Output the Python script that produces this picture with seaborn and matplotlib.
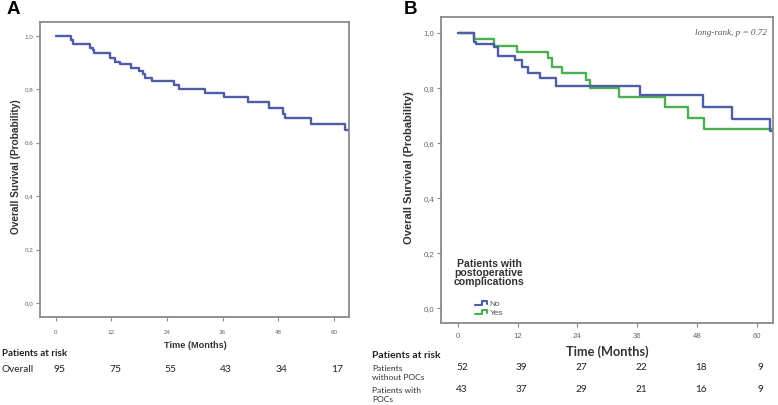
import matplotlib
matplotlib.use("Agg")
import matplotlib.pyplot as plt
import matplotlib.transforms as mtransforms
from matplotlib.lines import Line2D
from matplotlib.legend_handler import HandlerBase
import seaborn as sns
import pandas as pd

# ---------------- data ----------------
time_ticks = [0, 12, 24, 36, 48, 60]
ytick_vals = [0.0, 0.2, 0.4, 0.6, 0.8, 1.0]
ytick_labels = ["0,0", "0,2", "0,4", "0,6", "0,8", "1,0"]

times_overall = [0, 3.2, 3.7, 7.4, 8.0, 8.3, 11.7, 12.8, 13.9, 16.2, 18.0, 18.8,
                 19.3, 20.7, 25.5, 26.7, 32.2, 36.3, 41.5, 46.0, 49.1, 49.4, 55.0,
                 62.4, 63.3]
surv_overall = [1.0, 0.985, 0.970, 0.954, 0.946, 0.937, 0.916, 0.904, 0.893, 0.880,
                0.870, 0.859, 0.843, 0.831, 0.818, 0.802, 0.788, 0.770, 0.751, 0.731,
                0.707, 0.694, 0.669, 0.646, 0.646]

times_no = [0, 3.3, 3.7, 7.3, 8.0, 11.5, 12.8, 14.0, 16.4, 19.7, 36.5, 49.2, 55.0,
            62.7, 63.3]
surv_no = [1.0, 0.968, 0.959, 0.949, 0.917, 0.902, 0.877, 0.853, 0.835, 0.808,
           0.776, 0.733, 0.688, 0.645, 0.645]

times_yes = [0, 3.3, 7.3, 11.8, 18.1, 18.9, 20.9, 25.8, 26.6, 32.3, 41.7, 46.2,
             49.5, 63.3]
surv_yes = [1.0, 0.978, 0.954, 0.930, 0.908, 0.877, 0.853, 0.829, 0.801, 0.766,
            0.731, 0.691, 0.651, 0.651]

risk_overall = [95, 75, 55, 43, 34, 17]
risk_no = [52, 39, 27, 22, 18, 9]
risk_yes = [43, 37, 29, 21, 16, 9]

group_labels = ["No", "Yes"]

# ---------------- style ----------------
sns.set_style("white")
plt.rcParams["font.family"] = ["Liberation Sans", "DejaVu Sans"]

BLUE = "#4f5ca8"
GREEN = "#4caf50"
SPINE = "#8a8a8a"
TICKTXT = "#666666"
LATO = ["Lato", "DejaVu Sans"]

W, H = 778, 405
fig = plt.figure(figsize=(W / 100, H / 100), dpi=100)


def fx(x):
    return x / W


def fy(y):
    return 1 - y / H


def make_ax(l, t, r, b):
    return fig.add_axes([fx(l), fy(b), (r - l) / W, (b - t) / H])


def style_ax(ax, tick_fs, ylim):
    ax.set_xlim(-3.4, 63.3)
    ax.set_ylim(*ylim)
    ax.set_xticks(time_ticks)
    ax.set_xticklabels([str(t) for t in time_ticks])
    ax.set_yticks(ytick_vals)
    ax.set_yticklabels(ytick_labels)
    for s in ax.spines.values():
        s.set_color(SPINE)
        s.set_linewidth(1.3)
    ax.tick_params(axis="both", direction="out", length=3, width=0.8,
                   color=SPINE, labelsize=tick_fs, labelcolor=TICKTXT, pad=2)
    ax.tick_params(axis="both", which="both", left=True, bottom=True)
    ax.set_xlabel("")
    ax.set_ylabel("")


# ---------------- Panel A ----------------
axA = make_ax(40, 22, 349, 317)
dfA = pd.DataFrame({"t": times_overall, "s": surv_overall})
sns.lineplot(data=dfA, x="t", y="s", ax=axA, drawstyle="steps-post",
             color=BLUE, linewidth=1.7, estimator=None)
style_ax(axA, 4.5, (-0.052, 1.052))
axA.tick_params(axis="x", pad=6)

fig.text(fx(7), fy(10), "A", fontsize=13.5, fontweight="heavy", color="black",
         va="center", ha="left")
fig.text(fx(16), fy(167), "Overall Suvival (Probability)", rotation=90,
         fontsize=7.3, fontweight="bold", color="#333333", va="center", ha="center")
fig.text(fx(195), fy(346), "Time (Months)", fontsize=6.6, fontweight="bold",
         color="#333333", ha="center", va="center",
         family=["Liberation Sans Narrow", "Liberation Sans"])
fig.text(fx(2), fy(354), "Patients at risk", fontsize=7.1, fontweight="bold",
         color="#222222", ha="left", va="center", family=LATO)
fig.text(fx(2), fy(370), "Overall", fontsize=7.2, color="#222222", ha="left",
         va="center", family=LATO)
transA = mtransforms.blended_transform_factory(axA.transData, fig.transFigure)
for t, n in zip(time_ticks, risk_overall):
    axA.text(t + 0.8, fy(370), str(n), transform=transA, fontsize=7.4,
             color="#222222", ha="center", va="center", family=LATO)

# ---------------- Panel B ----------------
axB = make_ax(441, 17, 773, 323)
dfB = pd.DataFrame({
    "t": times_no + times_yes,
    "s": surv_no + surv_yes,
    "g": [group_labels[0]] * len(times_no) + [group_labels[1]] * len(times_yes),
})
sns.lineplot(data=dfB, x="t", y="s", hue="g", palette={"No": BLUE, "Yes": GREEN},
             hue_order=["Yes", "No"], ax=axB, drawstyle="steps-post",
             linewidth=1.7, estimator=None, legend=False)
style_ax(axB, 5.6, (-0.053, 1.058))
axB.tick_params(axis="x", pad=4)

fig.text(fx(404), fy(9), "B", fontsize=13.5, fontweight="heavy", color="black",
         va="center", ha="left")
fig.text(fx(409), fy(168), "Overall Survival (Probability)", rotation=90,
         fontsize=8, fontweight="bold", color="#333333", va="center", ha="center")
axB.text(0.983, 0.947, "long-rank, p = 0.72", transform=axB.transAxes,
         fontsize=6.6, style="italic", color="#555555", ha="right", va="center",
         family=["Liberation Serif", "DejaVu Serif"])


class StepHandler(HandlerBase):
    def create_artists(self, legend, orig_handle, xdescent, ydescent, width,
                       height, fontsize, trans):
        w, h = width, height
        xs = [-xdescent, 0.45 * w, 0.45 * w, 0.85 * w, 0.85 * w]
        ys = [0.2 * h, 0.2 * h, 0.85 * h, 0.85 * h, 0.35 * h]
        ln = Line2D(xs, ys, color=orig_handle.get_color(), linewidth=1.5,
                    transform=trans)
        return [ln]


fig.text(fx(489), fy(273), "Patients with\npostoperative\ncomplications",
         fontsize=7.6, fontweight="bold", color="#333333", ha="center",
         va="center", linespacing=0.92)
handles = [Line2D([], [], color=BLUE), Line2D([], [], color=GREEN)]
axB.legend(handles, group_labels, handler_map={Line2D: StepHandler()},
           loc="upper left", bbox_to_anchor=(fx(471), fy(296)),
           bbox_transform=fig.transFigure, frameon=False, fontsize=6,
           handlelength=1.7, handletextpad=0.05, labelspacing=0.15,
           borderpad=0, labelcolor="#555555")

fig.text(fx(607), fy(352), "Time (Months)", fontsize=9.2, fontweight="bold",
         color="#333333", ha="center", va="center", family=LATO)
fig.text(fx(372), fy(356), "Patients at risk", fontsize=7.4, fontweight="bold",
         color="#222222", ha="left", va="center", family=LATO)
fig.text(fx(372), fy(373), "Patients\nwithout POCs", fontsize=6.1,
         color="#333333", ha="left", va="center", linespacing=1.2, family=LATO)
fig.text(fx(372), fy(395), "Patients with\nPOCs", fontsize=6.1,
         color="#333333", ha="left", va="center", linespacing=1.2, family=LATO)
transB = mtransforms.blended_transform_factory(axB.transData, fig.transFigure)
for t, n1, n2 in zip(time_ticks, risk_no, risk_yes):
    axB.text(t + 0.8, fy(368), str(n1), transform=transB, fontsize=7.2,
             color="#222222", ha="center", va="center", family=LATO)
    axB.text(t + 0.8, fy(390), str(n2), transform=transB, fontsize=7.2,
             color="#222222", ha="center", va="center", family=LATO)

fig.savefig("out.png", dpi=100)
